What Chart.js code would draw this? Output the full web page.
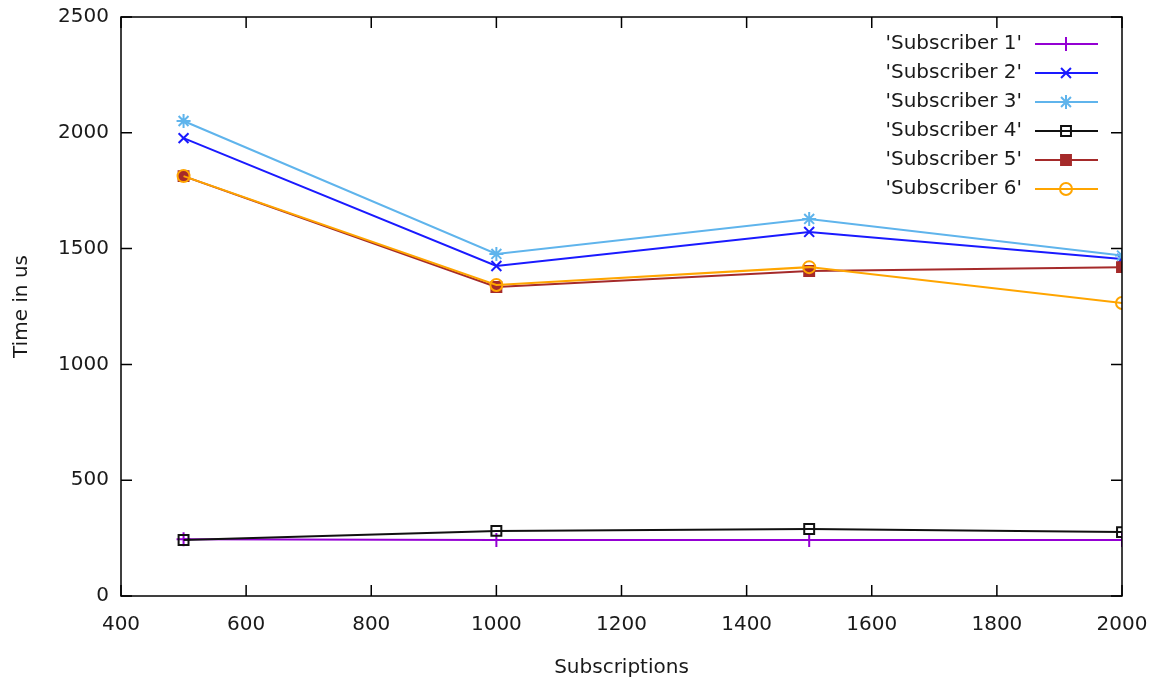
<!DOCTYPE html>
<html>
<head>
<meta charset="utf-8">
<script src="https://cdn.jsdelivr.net/npm/chart.js@4/dist/chart.umd.min.js"></script>
<style>
  html, body { margin: 0; padding: 0; background: #fff; }
  #wrap { width: 1160px; height: 681px; }
</style>
</head>
<body>
<div id="wrap"><canvas id="chart"></canvas></div>
<script>
// values
const subscriptions = [500, 1000, 1500, 2000];
const subscriber1 = [245, 242, 242, 242];
const subscriber2 = [1977, 1425, 1572, 1455];
const subscriber3 = [2051, 1477, 1628, 1470];
const subscriber4 = [242, 281, 289, 276];
const subscriber5 = [1813, 1334, 1403, 1420];
const subscriber6 = [1813, 1343, 1420, 1265];
const seriesNames = ["'Subscriber 1'", "'Subscriber 2'", "'Subscriber 3'", "'Subscriber 4'", "'Subscriber 5'", "'Subscriber 6'"];

const FONT = "'DejaVu Sans', sans-serif";
const FSIZE = 20;
const TEXT = "#1a1a1a";

const styles = [
  { color: "#9400d3", point: "cross", fill: "rgba(0,0,0,0)" },
  { color: "#1a1aff", point: "crossRot", fill: "rgba(0,0,0,0)" },
  { color: "#5fb4ec", point: "star", fill: "rgba(0,0,0,0)" },
  { color: "#111111", point: "rect", fill: "rgba(0,0,0,0)" },
  { color: "#a52a2a", point: "rect", fill: "#a52a2a" },
  { color: "#ffa500", point: "circle", fill: "rgba(0,0,0,0)" }
];

const allSeries = [subscriber1, subscriber2, subscriber3, subscriber4, subscriber5, subscriber6];

const datasets = allSeries.map((vals, i) => ({
  label: seriesNames[i],
  data: vals.map((v, j) => ({ x: subscriptions[j], y: v })),
  borderColor: styles[i].color,
  backgroundColor: styles[i].fill,
  pointBorderColor: styles[i].color,
  pointBackgroundColor: styles[i].fill,
  pointStyle: styles[i].point,
  pointRadius: styles[i].point === "circle" ? 6 : 7,
  pointBorderWidth: 2,
  borderWidth: 2,
  tension: 0,
  order: 6 - i // later series drawn on top, like gnuplot
}));

const plainNum = v => String(v);

// frame, inward ticks on all sides, and gnuplot style key
const gnuplotFrame = {
  id: "gnuplotFrame",
  afterDatasetsDraw(chart) {
    const ctx = chart.ctx;
    const a = chart.chartArea;
    const xs = chart.scales.x, ys = chart.scales.y;
    const tl = 11;
    ctx.save();
    ctx.strokeStyle = "#000";
    ctx.lineWidth = 1.5;
    ctx.strokeRect(a.left, a.top, a.right - a.left, a.bottom - a.top);
    ctx.beginPath();
    xs.ticks.forEach(t => {
      const x = xs.getPixelForValue(t.value);
      ctx.moveTo(x, a.bottom); ctx.lineTo(x, a.bottom - tl);
      ctx.moveTo(x, a.top); ctx.lineTo(x, a.top + tl);
    });
    ys.ticks.forEach(t => {
      const y = ys.getPixelForValue(t.value);
      ctx.moveTo(a.left, y); ctx.lineTo(a.left + tl, y);
      ctx.moveTo(a.right, y); ctx.lineTo(a.right - tl, y);
    });
    ctx.stroke();

    // key
    ctx.font = FSIZE + "px " + FONT;
    ctx.textAlign = "right";
    ctx.textBaseline = "middle";
    chart.data.datasets.forEach((ds, i) => {
      const y = 44 + i * 29;
      ctx.fillStyle = TEXT;
      ctx.fillText(ds.label, 1022, y);
      ctx.strokeStyle = ds.borderColor;
      ctx.lineWidth = 2;
      ctx.beginPath();
      ctx.moveTo(1035, y); ctx.lineTo(1098, y);
      ctx.stroke();
      ctx.fillStyle = ds.pointBackgroundColor;
      ctx.strokeStyle = ds.pointBorderColor;
      Chart.helpers.drawPoint(ctx, {
        pointStyle: ds.pointStyle,
        radius: ds.pointRadius,
        rotation: 0,
        borderWidth: 2
      }, 1066, y);
    });
    ctx.restore();
  }
};

new Chart(document.getElementById("chart"), {
  type: "line",
  data: { datasets },
  plugins: [gnuplotFrame],
  options: {
    responsive: true,
    maintainAspectRatio: false,
    animation: false,
    layout: { padding: { left: 0, top: 17, right: 38, bottom: 0 } },
    plugins: {
      legend: { display: false },
      tooltip: { enabled: false }
    },
    scales: {
      x: {
        type: "linear",
        min: 400,
        max: 2000,
        ticks: { stepSize: 200, padding: 17, color: TEXT, font: { family: FONT, size: FSIZE }, maxRotation: 0, callback: plainNum },
        grid: { display: false, drawTicks: false },
        border: { display: false },
        title: { display: true, text: "Subscriptions", color: TEXT, font: { family: FONT, size: FSIZE }, padding: { top: 1, bottom: 1 } },
        afterFit(scale) {
          scale.height = 85;
          scale.paddingLeft = 0;
          scale.paddingRight = 0;
        }
      },
      y: {
        min: 0,
        max: 2500,
        ticks: { stepSize: 500, padding: 12, color: TEXT, font: { family: FONT, size: FSIZE }, callback: plainNum },
        grid: { display: false, drawTicks: false },
        border: { display: false },
        title: { display: true, text: "Time in us", color: TEXT, font: { family: FONT, size: FSIZE }, padding: { top: 10, bottom: 0 } },
        afterFit(scale) {
          scale.width = 121;
          scale.paddingTop = 0;
          scale.paddingBottom = 0;
        }
      }
    }
  }
});
</script>
</body>
</html>
